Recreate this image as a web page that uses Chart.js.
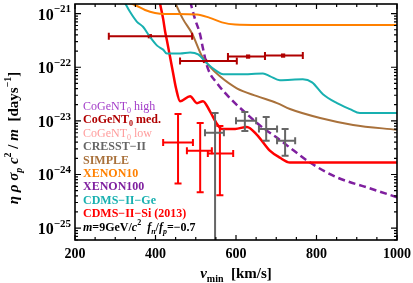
<!DOCTYPE html>
<html><head><meta charset="utf-8">
<script src="https://cdn.jsdelivr.net/npm/chart.js@4"></script>
<style>html,body{margin:0;padding:0;background:#fff;overflow:hidden}#wrap{width:413px;height:283px;position:relative}</style>
</head><body><div id="wrap"><canvas id="c" width="413" height="283"></canvas></div>
<script>
// ---------- data ----------
const xenon10V   = [320, 349, 374, 399, 424, 503, 535, 565, 598, 660, 1000];
const xenon10Eta = [1.7e-21, 1.449e-21, 1.17e-21, 1.03e-21, 9.86e-22, 9.66e-22, 8.34e-22, 6.87e-22, 6.24e-22, 6.11e-22, 6.11e-22];

const cdmsGeV   = [322, 337, 354, 369, 386, 404, 419, 428, 461, 486, 506, 528, 553, 568, 610, 667, 685, 709, 766, 789, 816, 851, 883, 908, 1000];
const cdmsGeEta = [1.7e-21, 1.07e-21, 7.03e-22, 5.68e-22, 3.71e-22, 2.53e-22, 2.13e-22, 1.80e-22, 1.80e-22, 1.88e-22, 1.73e-22, 1.18e-22, 8.36e-23, 7.36e-23, 7.36e-23, 7.67e-23, 6.76e-23, 5.70e-23, 5.94e-23, 5.23e-23, 3.14e-23, 2.14e-23, 1.66e-23, 1.40e-23, 1.40e-23];

const simpleV   = [443, 468, 491, 516, 535, 560, 602, 652, 702, 734, 809, 891, 1000];
const simpleEta = [2.0e-21, 7.98e-22, 4.22e-22, 1.58e-22, 1.03e-22, 6.76e-23, 4.05e-23, 2.89e-23, 2.14e-23, 1.66e-23, 1.13e-23, 8.40e-24, 6.79e-24];

const xenon100V   = [486, 498, 511, 518, 530, 553, 585, 627, 667, 702, 734, 784, 851, 925, 1000];
const xenon100Eta = [1.7e-21, 7.98e-22, 4.04e-22, 2.23e-22, 9.51e-23, 5.02e-23, 2.65e-23, 1.34e-23, 7.40e-24, 4.83e-24, 3.16e-24, 1.67e-24, 8.81e-25, 5.75e-25, 3.76e-25];

const cdmsSiV   = [410, 419, 424, 429, 436, 443, 451, 461, 486, 503, 518, 535, 553, 565, 598, 627, 652, 684, 709, 734, 1000];
const cdmsSiEta = [1.7e-21, 7.98e-22, 4.59e-22, 3.00e-22, 1.58e-22, 8.36e-23, 4.05e-23, 2.33e-23, 2.89e-23, 2.14e-23, 2.33e-23, 1.52e-23, 8.75e-24, 7.08e-24, 7.08e-24, 7.71e-24, 5.48e-24, 2.78e-24, 2.06e-24, 1.67e-24, 1.67e-24];

// CoGeNT med. points
const cogentV    = [386, 523, 630, 717];
const cogentEta  = [3.79e-22, 1.31e-22, 1.58e-22, 1.65e-22];
const cogentVlo  = [284, 461, 580, 672];
const cogentVhi  = [491, 602, 672, 766];

// CDMS-II-Si events
const siV      = [456, 511, 560];
const siEta    = [3.95e-24, 2.78e-24, 2.45e-24];
const siVlo    = [419, 478, 530];
const siVhi    = [493, 540, 593];
const siEtaLo  = [6.82e-25, 4.65e-25, 4.09e-25];
const siEtaHi  = [1.34e-23, 9.14e-24, 8.05e-24];

// CRESST-II points
const crV      = [548, 622, 675, 722];
const crEta    = [5.97e-24, 1.00e-23, 7.08e-24, 4.25e-24];
const crVlo    = [523, 600, 657, 702];
const crVhi    = [570, 650, 702, 747];
const crEtaLo  = [1e-27, 6.5e-24, 4.25e-24, 2.24e-24];
const crEtaHi  = [1.40e-23, 1.46e-23, 1.18e-23, 7.08e-24];

// axes
const xTicks = [200, 400, 600, 800, 1000];
const xTickLabels = ['200', '400', '600', '800', '1000'];
const yTickExps = [-21, -22, -23, -24, -25];
const yTickLabels = ['10^{−21}', '10^{−22}', '10^{−23}', '10^{−24}', '10^{−25}'];
const xTitle = '*v*_{min}  [km/s]';
const yTitle = '*η ρ σ*_{*p*} *c*^{2} / *m*  [days^{−1}]';

// legend text
const legendText = ['CoGeNT_{0} high', 'CoGeNT_{0} med.', 'CoGeNT_{0} low', 'CRESST−II', 'SIMPLE', 'XENON10', 'XENON100', 'CDMS−II−Ge', 'CDMS−II−Si (2013)', '*m*=9GeV/*c*^{2}  *f*_{*n*}/*f*_{*p*}=−0.7'];
const legendColor = ['#a23cc8', '#b00000', '#ff9c9c', '#666666', '#a9713b', '#ff8000', '#7f1f9f', '#18b0b0', '#ff0000', '#000000'];
const legendWeight = ['normal', 'bold', 'normal', 'bold', 'bold', 'bold', 'bold', 'bold', 'bold', 'bold'];

// ---------- helpers ----------
const FAMILY = '"Liberation Serif", "DejaVu Serif", serif';
const zip = (xs, ys) => xs.map((v, i) => ({x: v, y: ys[i]}));

function parseRich(s) {
  const out = []; let italic = false; let buf = ''; let i = 0;
  const push = () => { if (buf) { out.push({t: buf, it: italic, mode: 'n'}); buf = ''; } };
  while (i < s.length) {
    const c = s[i];
    if (c === '*') { push(); italic = !italic; i++; continue; }
    if ((c === '_' || c === '^') && s[i + 1] === '{') {
      push();
      const j = s.indexOf('}', i);
      const inner = s.slice(i + 2, j);
      let it = italic, b = '';
      const mode = c === '_' ? 'sub' : 'sup';
      for (const ch of inner) {
        if (ch === '*') { if (b) { out.push({t: b, it, mode}); b = ''; } it = !it; }
        else b += ch;
      }
      if (b) out.push({t: b, it, mode});
      i = j + 1; continue;
    }
    buf += c; i++;
  }
  push();
  return out;
}
function fontFor(tok, size, weight) {
  const sz = tok.mode === 'n' ? size : Math.round(size * 0.68);
  return (tok.it ? 'italic ' : '') + weight + ' ' + sz + 'px ' + FAMILY;
}
function measureRich(ctx, toks, size, weight) {
  let w = 0;
  for (const t of toks) { ctx.font = fontFor(t, size, weight); w += ctx.measureText(t.t).width; }
  return w;
}
function drawRich(ctx, toks, x, y, size, weight, color) {
  ctx.fillStyle = color; ctx.textBaseline = 'alphabetic'; ctx.textAlign = 'left';
  for (const t of toks) {
    ctx.font = fontFor(t, size, weight);
    const dy = t.mode === 'sub' ? size * 0.25 : t.mode === 'sup' ? -size * 0.45 : 0;
    ctx.fillText(t.t, x, y + dy);
    x += ctx.measureText(t.t).width;
  }
  return x;
}

// ---------- plugins ----------
const errPlugin = {
  id: 'errbars',
  afterDatasetsDraw(chart) {
    const {ctx, chartArea: a, scales: {x, y}} = chart;
    const groups = [
      {v: cogentV, e: cogentEta, vlo: cogentVlo, vhi: cogentVhi, elo: null, ehi: null, color: '#b00000', lw: 2},
      {v: siV, e: siEta, vlo: siVlo, vhi: siVhi, elo: siEtaLo, ehi: siEtaHi, color: '#ff0000', lw: 2},
      {v: crV, e: crEta, vlo: crVlo, vhi: crVhi, elo: crEtaLo, ehi: crEtaHi, color: '#666666', lw: 2}
    ];
    ctx.save();
    ctx.beginPath(); ctx.rect(a.left, a.top, a.right - a.left, a.bottom - a.top); ctx.clip();
    const cap = 3.5;
    for (const g of groups) {
      ctx.strokeStyle = g.color; ctx.lineWidth = g.lw; ctx.lineCap = 'butt';
      for (let i = 0; i < g.v.length; i++) {
        const px = x.getPixelForValue(g.v[i]), py = y.getPixelForValue(g.e[i]);
        const x0 = x.getPixelForValue(g.vlo[i]), x1 = x.getPixelForValue(g.vhi[i]);
        ctx.beginPath();
        ctx.moveTo(x0, py); ctx.lineTo(x1, py);
        ctx.moveTo(x0, py - cap); ctx.lineTo(x0, py + cap);
        ctx.moveTo(x1, py - cap); ctx.lineTo(x1, py + cap);
        if (g.elo) {
          const y0 = y.getPixelForValue(g.elo[i]), y1 = y.getPixelForValue(g.ehi[i]);
          ctx.moveTo(px, y0); ctx.lineTo(px, y1);
          ctx.moveTo(px - cap, y0); ctx.lineTo(px + cap, y0);
          ctx.moveTo(px - cap, y1); ctx.lineTo(px + cap, y1);
        }
        ctx.stroke();
      }
    }
    ctx.restore();
  }
};

const framePlugin = {
  id: 'frame',
  afterDraw(chart) {
    const {ctx, chartArea: a, scales: {x, y}} = chart;
    ctx.save();
    ctx.strokeStyle = '#000'; ctx.lineWidth = 1.2;
    // y ticks (major + minor), inward on both sides
    ctx.beginPath();
    for (let n = -26; n <= -21; n++) {
      for (let k = 1; k <= 9; k++) {
        const v = k * Math.pow(10, n);
        const py = y.getPixelForValue(v);
        if (py < a.top - 0.5 || py > a.bottom + 0.5) continue;
        const len = k === 1 ? 6 : 3;
        ctx.moveTo(a.left, py); ctx.lineTo(a.left + len, py);
        ctx.moveTo(a.right, py); ctx.lineTo(a.right - len, py);
      }
    }
    // x ticks
    for (let v = 200; v <= 1000; v += 50) {
      const px = x.getPixelForValue(v);
      const len = xTicks.includes(v) ? 5 : 3;
      ctx.moveTo(px, a.bottom); ctx.lineTo(px, a.bottom - len);
      ctx.moveTo(px, a.top); ctx.lineTo(px, a.top + len);
    }
    ctx.stroke();
    // frame
    ctx.lineWidth = 1.6;
    ctx.strokeRect(a.left, a.top, a.right - a.left, a.bottom - a.top);

    // y tick labels
    yTickExps.forEach((n, i) => {
      const py = y.getPixelForValue(Math.pow(10, n));
      const toks = parseRich(yTickLabels[i]);
      const w = measureRich(ctx, toks, 16, 'bold');
      drawRich(ctx, toks, a.left - 4 - w, py + 6, 16, 'bold', '#000');
    });
    // x tick labels
    xTicks.forEach((v, i) => {
      const px = x.getPixelForValue(v);
      ctx.font = 'bold 14px ' + FAMILY; ctx.fillStyle = '#000';
      ctx.textAlign = 'center'; ctx.textBaseline = 'alphabetic';
      ctx.fillText(xTickLabels[i], px, a.bottom + 18);
    });
    // x title
    {
      const toks = parseRich(xTitle);
      const w = measureRich(ctx, toks, 15, 'bold');
      drawRich(ctx, toks, (a.left + a.right) / 2 - w / 2, a.bottom + 38, 15, 'bold', '#000');
    }
    // y title
    {
      const toks = parseRich(yTitle);
      const w = measureRich(ctx, toks, 15, 'bold');
      ctx.save();
      ctx.translate(18, (a.top + a.bottom) / 2 + 16);
      ctx.rotate(-Math.PI / 2);
      drawRich(ctx, toks, -w / 2, 0, 15, 'bold', '#000');
      ctx.restore();
    }
    // legend text
    legendText.forEach((s, i) => {
      const toks = parseRich(s);
      drawRich(ctx, toks, a.left + 8, 110 + i * 13.4, 12, legendWeight[i], legendColor[i]);
    });
    ctx.restore();
  }
};

// ---------- chart ----------
const lineDs = (label, xs, ys, color, extra) => Object.assign({
  label, data: zip(xs, ys), borderColor: color, backgroundColor: color,
  borderWidth: 2, pointRadius: 0, fill: false, cubicInterpolationMode: 'monotone'
}, extra || {});

new Chart(document.getElementById('c'), {
  type: 'line',
  data: {
    datasets: [
      lineDs('XENON10', xenon10V, xenon10Eta, '#ff8000'),
      lineDs('CDMS-II-Ge', cdmsGeV, cdmsGeEta, '#18b0b0'),
      lineDs('SIMPLE', simpleV, simpleEta, '#a9713b'),
      lineDs('CDMS-II-Si', cdmsSiV, cdmsSiEta, '#ff0000', {borderWidth: 2.5}),
      lineDs('XENON100', xenon100V, xenon100Eta, '#7f1f9f', {borderWidth: 2.5, borderDash: [7, 4]}),
      {label: 'CoGeNT med', data: zip(cogentV, cogentEta), showLine: false, pointStyle: 'rect',
       pointRadius: 3, borderColor: '#b00000', backgroundColor: '#b00000', borderWidth: 0}
    ]
  },
  options: {
    responsive: false, animation: false, devicePixelRatio: 1,
    layout: {padding: {left: 0, right: 16, top: 2, bottom: 0}},
    plugins: {legend: {display: false}, tooltip: {enabled: false}},
    scales: {
      x: {type: 'linear', min: 200, max: 1000,
          grid: {display: false}, border: {display: false}, ticks: {display: false},
          afterFit: s => { s.height = 43; }},
      y: {type: 'logarithmic', min: 6.0e-26, max: 1.511e-21,
          grid: {display: false}, border: {display: false}, ticks: {display: false},
          afterFit: s => { s.width = 75; }}
    }
  },
  plugins: [errPlugin, framePlugin]
});
</script></body></html>
